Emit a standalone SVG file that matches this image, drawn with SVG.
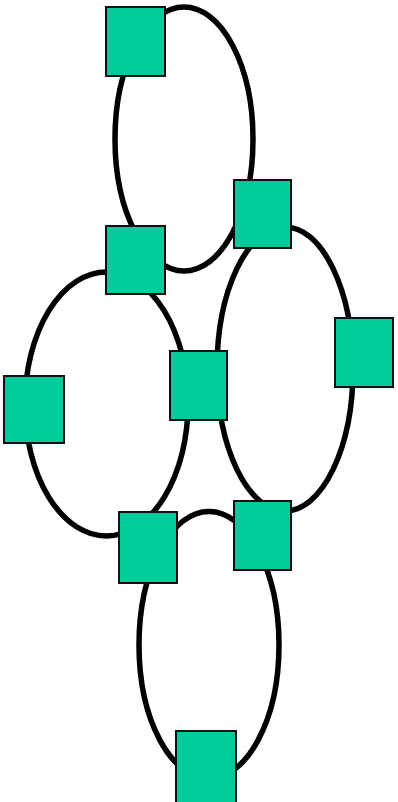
<svg xmlns="http://www.w3.org/2000/svg" width="398" height="802" viewBox="0 0 398 802">
<style>
.e{fill:none;stroke:#000;stroke-width:5.5}
.n{fill:#00CC99;stroke:#111;stroke-width:2}
</style>
<rect width="398" height="802" fill="#fff"/>
<g id="connectors">
<ellipse class="e" cx="184" cy="139" rx="69" ry="132"/>
<ellipse class="e" cx="106.5" cy="404" rx="81.5" ry="132"/>
<ellipse class="e" cx="285" cy="369" rx="68" ry="142"/>
<ellipse class="e" cx="209" cy="645" rx="70" ry="133.5"/>
</g>
<g id="n1"><rect class="n" x="106" y="7" width="59" height="69"/></g>
<g id="n2"><rect class="n" x="234" y="180" width="57" height="68"/></g>
<g id="n3"><rect class="n" x="106" y="226" width="59" height="68"/></g>
<g id="n4"><rect class="n" x="4" y="376" width="60" height="67"/></g>
<g id="n5"><rect class="n" x="170" y="351" width="57" height="69"/></g>
<g id="n6"><rect class="n" x="335" y="318" width="58" height="69"/></g>
<g id="n7"><rect class="n" x="119" y="512" width="58" height="71"/></g>
<g id="n8"><rect class="n" x="234" y="501" width="57" height="69"/></g>
<g id="n9"><rect class="n" x="176" y="731" width="60" height="72"/></g>
</svg>
